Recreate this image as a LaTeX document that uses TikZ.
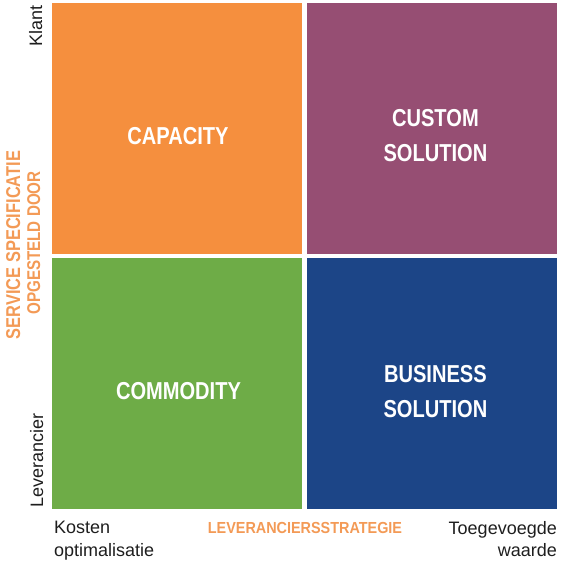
\documentclass[tikz,border=0pt]{standalone}
\usepackage{fontspec}
\setmainfont{Liberation Sans}
\newfontfamily\condfont[FakeStretch=0.82]{Liberation Sans}
\newfontfamily\axisfont[FakeStretch=0.9]{Liberation Sans}
\usetikzlibrary{positioning}
\definecolor{capacity}{HTML}{F58F3E}
\definecolor{custom}{HTML}{964E73}
\definecolor{commodity}{HTML}{6EAC47}
\definecolor{business}{HTML}{1C4587}
\definecolor{axisorange}{HTML}{F39A56}
\definecolor{bk90}{HTML}{1E1E1E}
\tikzset{
  quadbox/.style={
    rectangle, fill=#1, draw=none,
    minimum width=250pt, minimum height=251pt,
    inner sep=0pt
  },
  quadlabel/.style={
    font=\condfont\bfseries\fontsize{24.5}{35}\selectfont,
    text=white, align=center, inner sep=0pt
  },
  axistitle/.style={
    font=\condfont\bfseries\fontsize{#1}{22}\selectfont,
    text=axisorange, inner sep=0pt
  },
  axistitle/.default=20,
  axisend/.style={
    font=\fontsize{18}{22.5}\selectfont, text=bk90, inner sep=0pt
  },
}
\begin{document}
\begin{tikzpicture}[x=1pt, y=1pt]
\useasboundingbox (0,0) rectangle (561,564);

% Quadrants
\node[quadbox=capacity] (capq) at (177,435.5) {};
\node[quadbox=custom, right=5pt of capq] (cusq) {};
\node[quadbox=commodity, below=4pt of capq] (comq) {};
\node[quadbox=business, right=5pt of comq] (busq) {};

% Quadrant labels
\node[quadlabel] (capl) at ([xshift=1pt, yshift=-7.5pt]capq.center) {CAPACITY};
\node[quadlabel] (cusl) at ([xshift=3pt, yshift=-7pt]cusq.center) {CUSTOM\\SOLUTION};
\node[quadlabel] (coml) at ([xshift=1.5pt, yshift=-7pt]comq.center) {COMMODITY};
\node[quadlabel] (busl) at ([xshift=3pt, yshift=-8pt]busq.center) {BUSINESS\\SOLUTION};

% Vertical axis
\node[axistitle, rotate=90, anchor=base] (vt1) at (20,319) {SERVICE SPECIFICATIE};
\node[axistitle=18.5, rotate=90, anchor=base] (vt2) at (40,321) {OPGESTELD DOOR};
\node[axisend, rotate=90, anchor=base east] (vtop) at (42,559) {Klant};
\node[axisend, rotate=90, anchor=base west] (vbot) at (43,56) {Leverancier};

% Horizontal axis
\node[axisend, anchor=north west, align=left] (hlo) at (54,43) {Kosten\\optimalisatie};
\node[axisend, anchor=north east, align=right] (hhi) at (557,43) {Toegevoegde\\waarde};
\node[font=\axisfont\bfseries\fontsize{16}{18}\selectfont, text=axisorange,
  inner sep=0pt, anchor=base] (ht) at (305,30) {LEVERANCIERSSTRATEGIE};

\end{tikzpicture}
\end{document}
